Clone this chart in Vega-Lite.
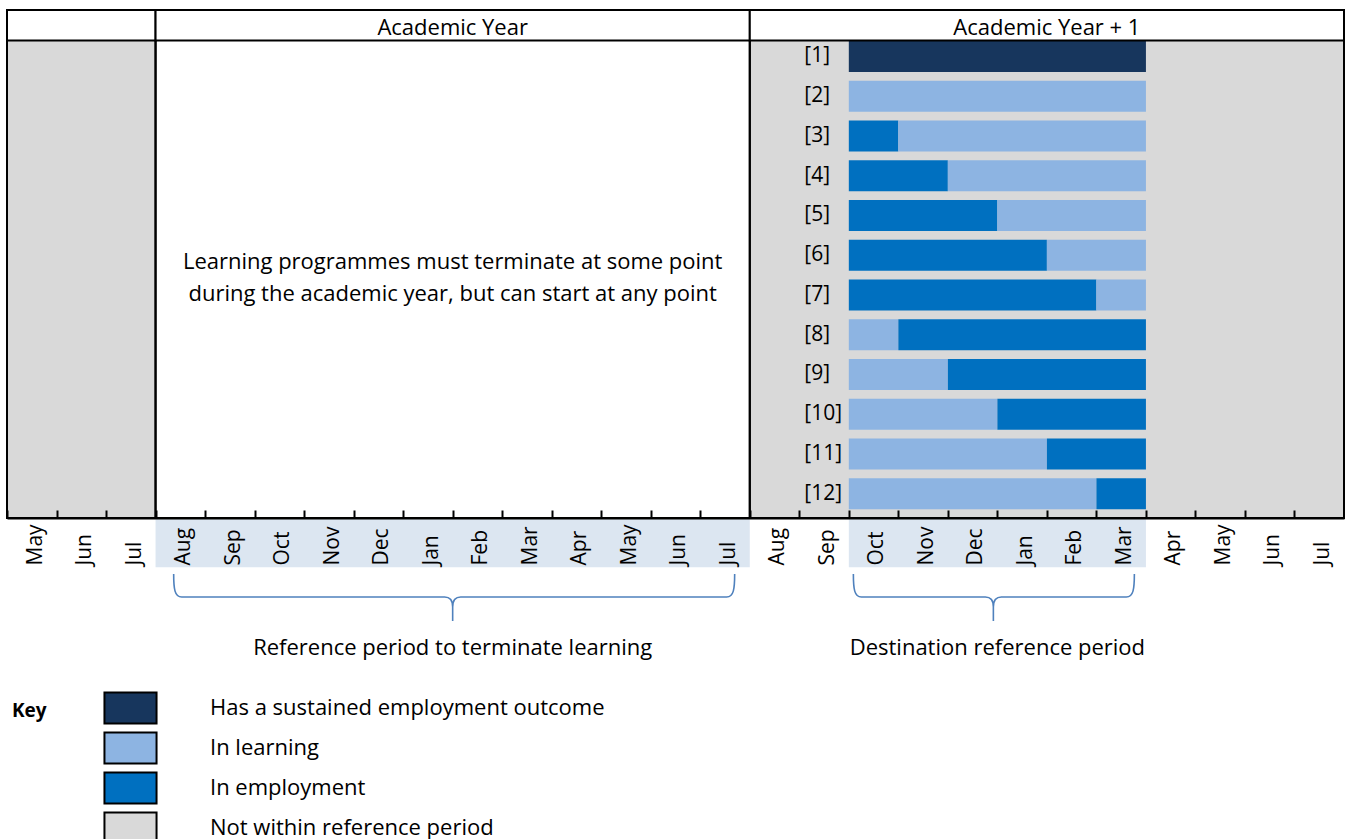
{
  "$schema": "https://vega.github.io/schema/vega-lite/v6.json",
  "autosize": "none",
  "width": 1337,
  "height": 508,
  "padding": {"left": 7, "top": 10, "right": 7, "bottom": 321},
  "background": "white",
  "config": {"view": {"stroke": null}, "font": "Open Sans"},
  "datasets": {
    "frames": [
      {"header": "", "from": 0, "to": 3, "status": "Not within reference period"},
      {"header": "Academic Year", "from": 3, "to": 15, "status": null},
      {"header": "Academic Year + 1", "from": 15, "to": 27, "status": "Not within reference period"}
    ],
    "outcomes": [
      {"pupil": "[1]", "row": 1, "status": "Has a sustained employment outcome", "from": 17, "to": 23},
      {"pupil": "[2]", "row": 2, "status": "In learning", "from": 17, "to": 23},
      {"pupil": "[3]", "row": 3, "status": "In employment", "from": 17, "to": 18},
      {"pupil": "[3]", "row": 3, "status": "In learning", "from": 18, "to": 23},
      {"pupil": "[4]", "row": 4, "status": "In employment", "from": 17, "to": 19},
      {"pupil": "[4]", "row": 4, "status": "In learning", "from": 19, "to": 23},
      {"pupil": "[5]", "row": 5, "status": "In employment", "from": 17, "to": 20},
      {"pupil": "[5]", "row": 5, "status": "In learning", "from": 20, "to": 23},
      {"pupil": "[6]", "row": 6, "status": "In employment", "from": 17, "to": 21},
      {"pupil": "[6]", "row": 6, "status": "In learning", "from": 21, "to": 23},
      {"pupil": "[7]", "row": 7, "status": "In employment", "from": 17, "to": 22},
      {"pupil": "[7]", "row": 7, "status": "In learning", "from": 22, "to": 23},
      {"pupil": "[8]", "row": 8, "status": "In learning", "from": 17, "to": 18},
      {"pupil": "[8]", "row": 8, "status": "In employment", "from": 18, "to": 23},
      {"pupil": "[9]", "row": 9, "status": "In learning", "from": 17, "to": 19},
      {"pupil": "[9]", "row": 9, "status": "In employment", "from": 19, "to": 23},
      {"pupil": "[10]", "row": 10, "status": "In learning", "from": 17, "to": 20},
      {"pupil": "[10]", "row": 10, "status": "In employment", "from": 20, "to": 23},
      {"pupil": "[11]", "row": 11, "status": "In learning", "from": 17, "to": 21},
      {"pupil": "[11]", "row": 11, "status": "In employment", "from": 21, "to": 23},
      {"pupil": "[12]", "row": 12, "status": "In learning", "from": 17, "to": 22},
      {"pupil": "[12]", "row": 12, "status": "In employment", "from": 22, "to": 23}
    ],
    "refperiods": [
      {"name": "Reference period to terminate learning", "from": 3, "to": 15},
      {"name": "Destination reference period", "from": 17, "to": 23}
    ],
    "notes": [
      {"note": "Learning programmes must terminate at some point\nduring the academic year, but can start at any point", "from": 3, "to": 15}
    ]
  },
  "layer": [
    {
      "data": {"name": "frames"},
      "transform": [{"filter": "isValid(datum.status)"}],
      "mark": {"type": "rect"},
      "encoding": {
        "x": {
          "field": "from", "type": "quantitative",
          "scale": {"domain": [0, 27], "nice": false, "zero": false, "padding": 0},
          "axis": {
            "values": [0,1,2,3,4,5,6,7,8,9,10,11,12,13,14,15,16,17,18,19,20,21,22,23,24,25,26],
            "labelExpr": "['May','Jun','Jul','Aug','Sep','Oct','Nov','Dec','Jan','Feb','Mar','Apr','May','Jun','Jul','Aug','Sep','Oct','Nov','Dec','Jan','Feb','Mar','Apr','May','Jun','Jul'][datum.value]",
            "labelAngle": 270, "labelAlign": "left", "labelBaseline": "middle",
            "labelOffset": 28, "labelPadding": 55,
            "tickSize": -8, "tickWidth": 2, "tickColor": "black", "ticks": true,
            "domain": true, "domainColor": "black", "domainWidth": 2,
            "grid": false, "title": null,
            "labelFont": "Open Sans", "labelFontSize": 21, "labelColor": "black",
            "labelOverlap": false, "labelFlush": false, "labelBound": false,
            "zindex": 1
          }
        },
        "x2": {"field": "to"},
        "y": {"datum": 0.597, "type": "quantitative", "scale": {"domain": [-0.17, 12.613], "reverse": true, "nice": false, "zero": false, "padding": 0}, "axis": null},
        "y2": {"datum": 12.613},
        "fill": {
          "field": "status", "type": "nominal",
          "scale": {
            "domain": ["Has a sustained employment outcome", "In learning", "In employment", "Not within reference period"],
            "range": ["#17365D", "#8DB4E2", "#0070C0", "#D9D9D9"]
          },
          "legend": {
            "orient": "none", "legendX": 5, "legendY": 681.5, "padding": 0,
            "title": "Key", "titleOrient": "left", "titleAngle": 0, "titleAnchor": "start",
            "titleBaseline": "line-top", "titleLineHeight": 38, "titleFont": "Open Sans", "titleFontSize": 19, "titleFontWeight": "bold", "titleColor": "black",
            "titlePadding": 67,
            "symbolType": "M-1.68,-1H1.68V1H-1.68Z", "symbolSize": 961,
            "symbolStrokeColor": "black", "symbolStrokeWidth": 2, "symbolOpacity": 1,
            "labelFont": "Open Sans", "labelFontSize": 22, "labelColor": "black",
            "labelOffset": 63, "rowPadding": 1, "labelLimit": 600
          }
        }
      }
    },
    {
      "data": {"name": "refperiods"},
      "mark": {"type": "rect", "fill": "#DCE6F1"},
      "encoding": {
        "x": {"field": "from", "type": "quantitative"},
        "x2": {"field": "to"},
        "y": {"datum": 12.613, "type": "quantitative", "axis": null},
        "y2": {"datum": 13.85}
      }
    },
    {
      "data": {"name": "outcomes"},
      "mark": {"type": "bar", "orient": "horizontal", "size": 31},
      "encoding": {
        "x": {"field": "from", "type": "quantitative"},
        "x2": {"field": "to"},
        "y": {"field": "row", "type": "quantitative", "axis": null},
        "fill": {"field": "status", "type": "nominal"}
      }
    },
    {
      "data": {"name": "outcomes"},
      "transform": [{"aggregate": [{"op": "count", "as": "n"}], "groupby": ["pupil", "row"]}],
      "mark": {"type": "text", "align": "left", "baseline": "middle", "dx": 5, "font": "Open Sans", "fontSize": 21, "color": "black"},
      "encoding": {
        "x": {"datum": 16, "type": "quantitative"},
        "y": {"field": "row", "type": "quantitative", "axis": null},
        "text": {"field": "pupil"}
      }
    },
    {
      "data": {"name": "frames"},
      "mark": {"type": "rect", "fill": null, "fillOpacity": 0, "stroke": "black", "strokeWidth": 2},
      "encoding": {
        "x": {"field": "from", "type": "quantitative"},
        "x2": {"field": "to"},
        "y": {"datum": -0.17, "type": "quantitative", "axis": null},
        "y2": {"datum": 12.613}
      }
    },
    {
      "data": {"name": "frames"},
      "mark": {"type": "rect", "fill": "white", "stroke": "black", "strokeWidth": 2},
      "encoding": {
        "x": {"field": "from", "type": "quantitative"},
        "x2": {"field": "to"},
        "y": {"datum": -0.17, "type": "quantitative", "axis": null},
        "y2": {"datum": 0.597}
      }
    },
    {
      "data": {"name": "frames"},
      "transform": [
        {"filter": "datum.header != ''"},
        {"fold": ["from", "to"], "as": ["edge", "pos"]},
        {"aggregate": [{"op": "mean", "field": "pos", "as": "mid"}], "groupby": ["header"]}
      ],
      "mark": {"type": "text", "align": "center", "baseline": "middle", "font": "Open Sans", "fontSize": 22, "color": "black"},
      "encoding": {
        "x": {"field": "mid", "type": "quantitative"},
        "y": {"datum": 0.28, "type": "quantitative", "axis": null},
        "text": {"field": "header"}
      }
    },
    {
      "data": {"name": "notes"},
      "transform": [
        {"fold": ["from", "to"], "as": ["edge", "pos"]},
        {"aggregate": [{"op": "mean", "field": "pos", "as": "mid"}], "groupby": ["note"]}
      ],
      "mark": {"type": "text", "align": "center", "baseline": "middle", "lineBreak": "\n", "lineHeight": 32, "font": "Open Sans", "fontSize": 22, "color": "black"},
      "encoding": {
        "x": {"field": "mid", "type": "quantitative"},
        "y": {"datum": 6.17, "type": "quantitative", "axis": null},
        "text": {"field": "note"}
      }
    },
    {
      "data": {"name": "refperiods"},
      "transform": [
        {"fold": ["from", "to"], "as": ["edge", "pos"]},
        {"aggregate": [{"op": "mean", "field": "pos", "as": "mid"}], "groupby": ["name"]}
      ],
      "mark": {"type": "point", "filled": false, "size": 4, "stroke": "#4F81BD", "strokeWidth": 1.6, "opacity": 1},
      "encoding": {
        "x": {"field": "mid", "type": "quantitative"},
        "y": {"datum": 14.601, "type": "quantitative", "axis": null},
        "shape": {
          "field": "name", "type": "nominal", "legend": null,
          "scale": {
            "domain": ["Reference period to terminate learning", "Destination reference period"],
            "range": [
              "M-279,-23C-279,-8 -278,0 -271,0L-8,0C-3,0 0,3 0,10L0,24M0,10C0,3 3,0 8,0L274,0C281,0 282,-8 282,-23",
              "M-144,-23C-144,-8 -143,0 -136,0L-12,0C-7,0 -4,3 -4,10L-4,24M-4,10C-4,3 -1,0 4,0L129,0C136,0 137,-8 137,-23"
            ]
          }
        }
      }
    },
    {
      "data": {"name": "refperiods"},
      "transform": [
        {"fold": ["from", "to"], "as": ["edge", "pos"]},
        {"aggregate": [{"op": "mean", "field": "pos", "as": "mid"}], "groupby": ["name"]}
      ],
      "mark": {"type": "text", "align": "center", "baseline": "middle", "font": "Open Sans", "fontSize": 22, "color": "black"},
      "encoding": {
        "x": {"field": "mid", "type": "quantitative"},
        "y": {"datum": 15.885, "type": "quantitative", "axis": null},
        "text": {"field": "name"}
      }
    }
  ]
}
